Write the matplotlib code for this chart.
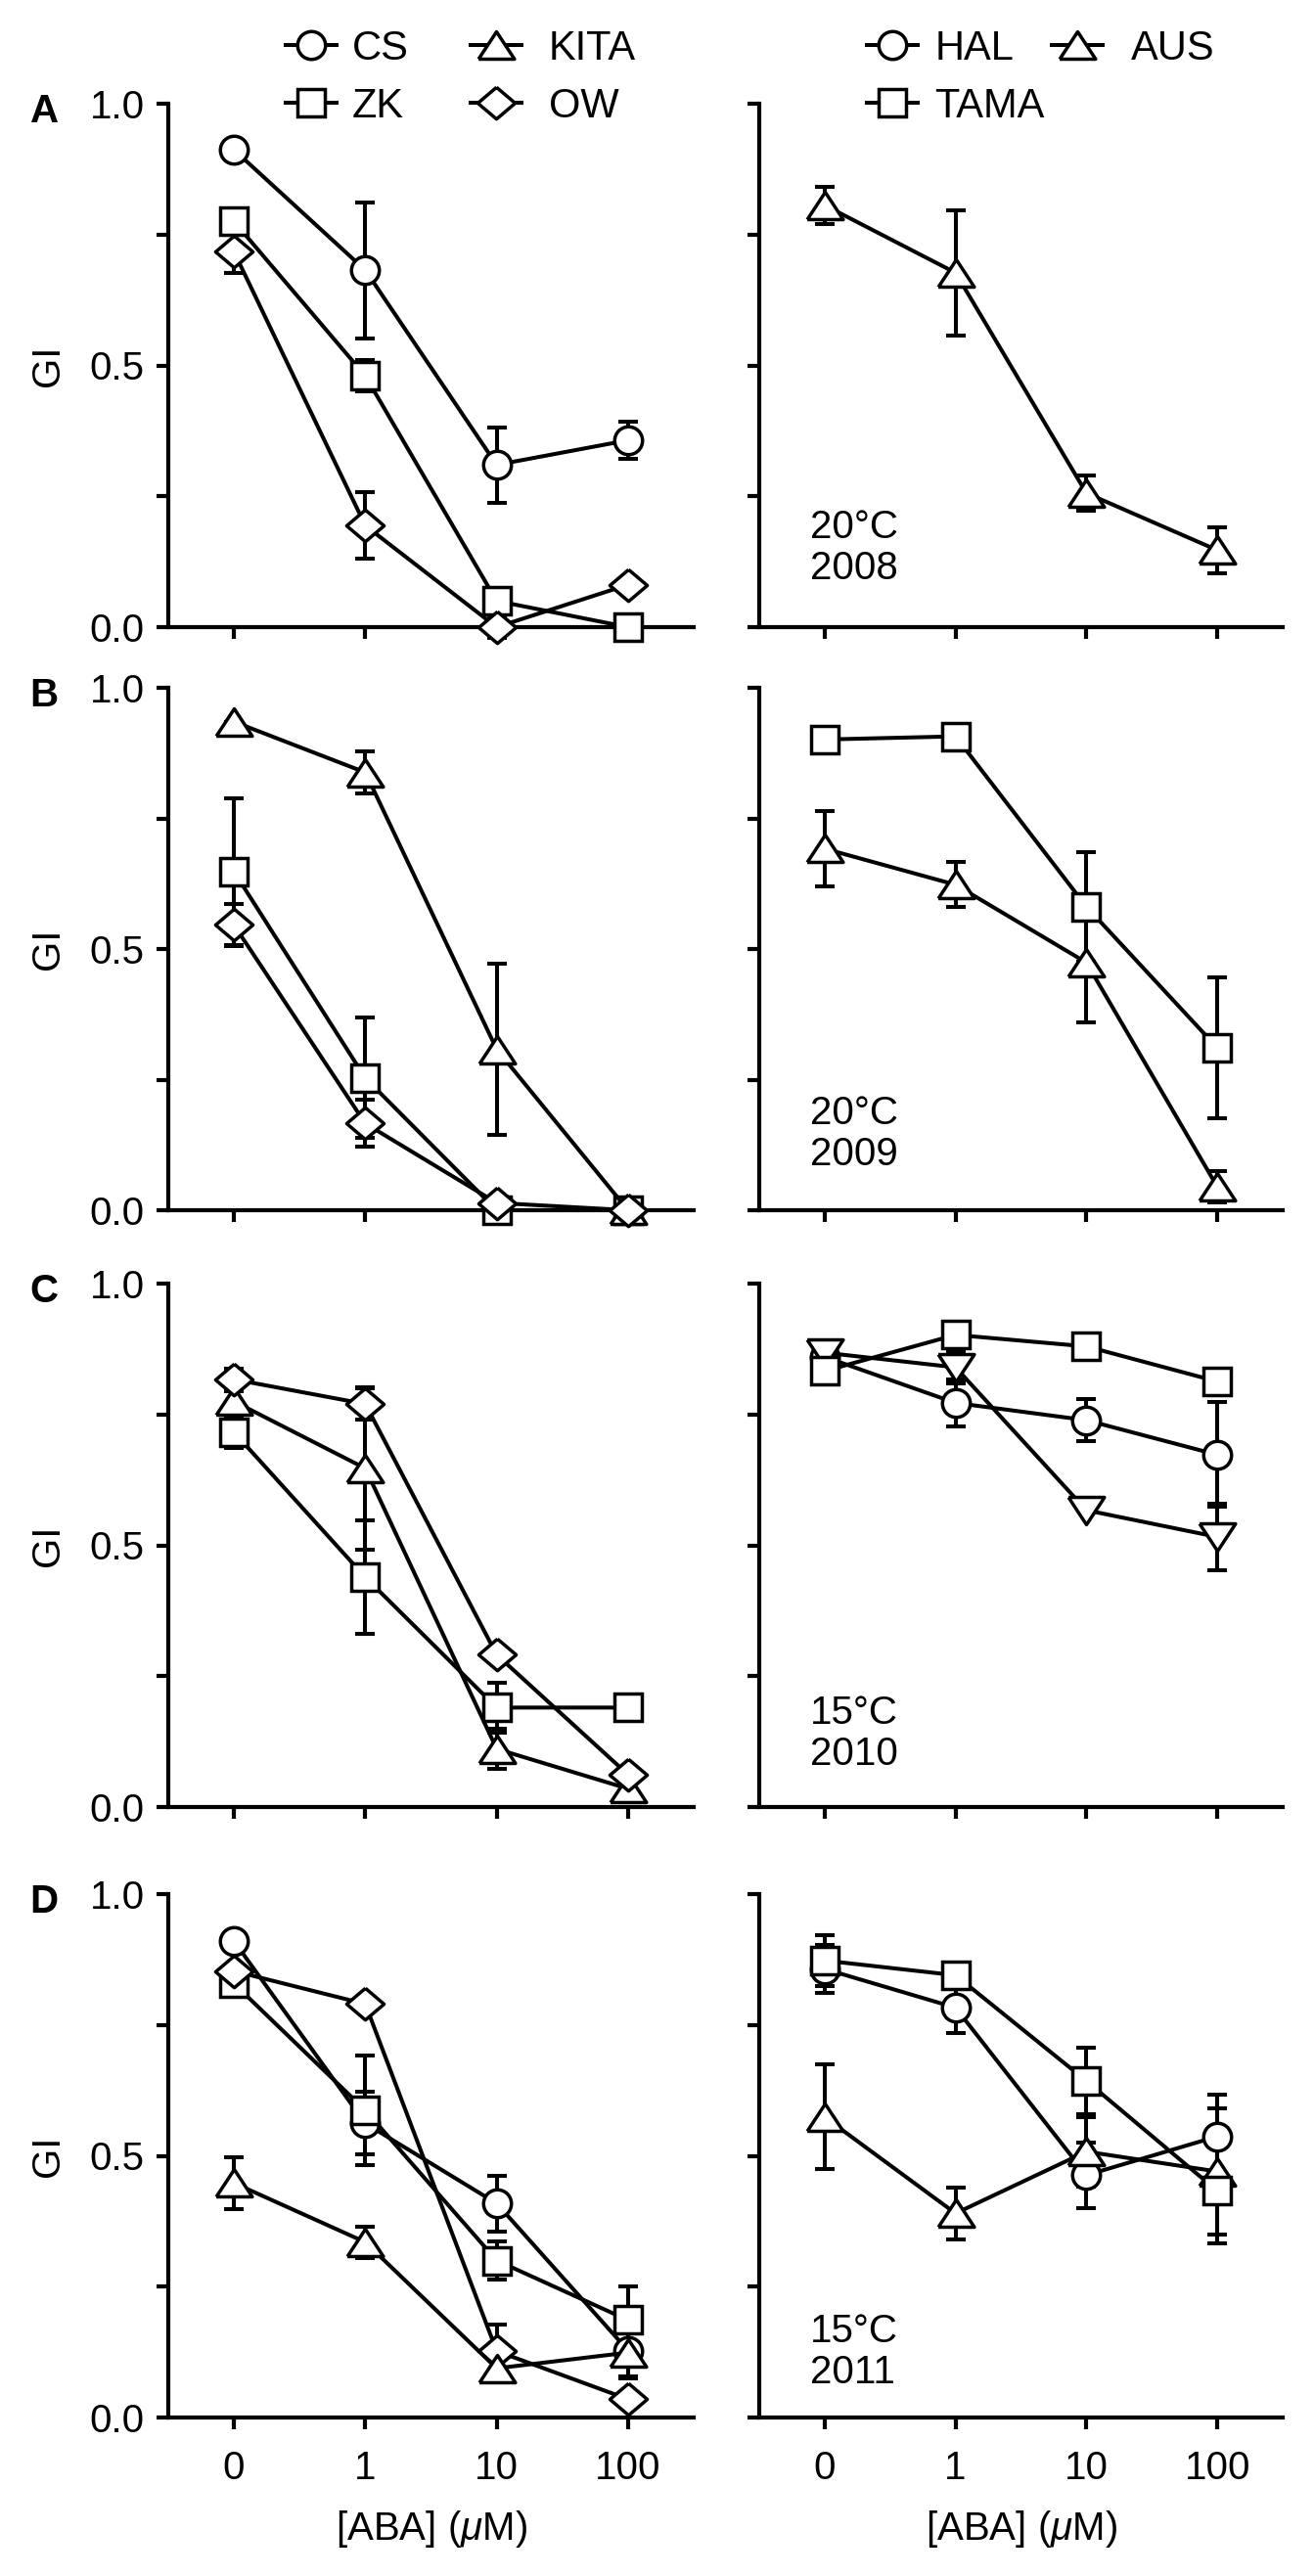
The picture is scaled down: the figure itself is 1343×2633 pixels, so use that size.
import matplotlib
matplotlib.use('Agg')
import matplotlib.pyplot as plt
from matplotlib.lines import Line2D

plt.rcParams['font.family'] = ['Liberation Sans', 'DejaVu Sans']
plt.rcParams['mathtext.fontset'] = 'custom'
plt.rcParams['mathtext.rm'] = 'Liberation Sans'
plt.rcParams['mathtext.it'] = 'Liberation Sans:italic'

# ---------------- data ----------------
conc_labels = ['0', '1', '10', '100']
gi_ticks = [0.0, 0.25, 0.5, 0.75, 1.0]
gi_ticklabels = ['0.0', '', '0.5', '', '1.0']

# Panel A (20 C, 2008)
A_CS = [0.912, 0.682, 0.310, 0.357]; A_CS_err = [0.0, 0.130, 0.072, 0.036]
A_ZK = [0.775, 0.480, 0.050, 0.000]; A_ZK_err = [0.0, 0.030, 0.0, 0.0]
A_OW = [0.717, 0.194, 0.000, 0.081]; A_OW_err = [0.040, 0.064, 0.020, 0.0]
A_AUS = [0.806, 0.677, 0.256, 0.147]; A_AUS_err = [0.035, 0.120, 0.034, 0.044]

# Panel B (20 C, 2009)
B_ZK = [0.648, 0.253, 0.000, 0.000]; B_ZK_err = [0.140, 0.115, 0.0, 0.0]
B_KITA = [0.935, 0.838, 0.308, 0.000]; B_KITA_err = [0.0, 0.040, 0.164, 0.0]
B_OW = [0.546, 0.166, 0.014, 0.000]; B_OW_err = [0.040, 0.045, 0.0, 0.0]
B_TAMA = [0.901, 0.907, 0.581, 0.311]; B_TAMA_err = [0.0, 0.0, 0.105, 0.135]
B_AUS = [0.692, 0.623, 0.474, 0.045]; B_AUS_err = [0.072, 0.043, 0.114, 0.030]

# Panel C (15 C, 2010)
C_ZK = [0.716, 0.439, 0.190, 0.190]; C_ZK_err = [0.030, 0.108, 0.048, 0.0]
C_KITA = [0.775, 0.647, 0.111, 0.035]; C_KITA_err = [0.020, 0.155, 0.038, 0.0]
C_OW = [0.817, 0.770, 0.291, 0.062]; C_OW_err = [0.020, 0.030, 0.0, 0.0]
C_HAL = [0.860, 0.772, 0.739, 0.673]; C_HAL_err = [0.0, 0.045, 0.040, 0.100]
C_TAMA = [0.833, 0.902, 0.880, 0.813]; C_TAMA_err = [0.0, 0.0, 0.0, 0.0]
C_AUS = [0.868, 0.840, 0.567, 0.516]; C_AUS_err = [0.0, 0.030, 0.0, 0.063]

# Panel D (15 C, 2011)
D_CS = [0.910, 0.562, 0.409, 0.128]; D_CS_err = [0.0, 0.060, 0.053, 0.050]
D_ZK = [0.829, 0.587, 0.300, 0.186]; D_ZK_err = [0.0, 0.105, 0.036, 0.065]
D_KITA = [0.448, 0.335, 0.094, 0.124]; D_KITA_err = [0.050, 0.030, 0.025, 0.050]
D_OW = [0.853, 0.790, 0.127, 0.035]; D_OW_err = [0.0, 0.0, 0.050, 0.0]
D_HAL = [0.857, 0.783, 0.463, 0.537]; D_HAL_err = [0.045, 0.048, 0.063, 0.080]
D_TAMA = [0.873, 0.845, 0.643, 0.433]; D_TAMA_err = [0.048, 0.0, 0.064, 0.100]
D_AUS = [0.574, 0.390, 0.508, 0.470]; D_AUS_err = [0.100, 0.050, 0.066, 0.120]

panel_letters = ['A', 'B', 'C', 'D']
panel_temps = ['20°C', '20°C', '15°C', '15°C']
panel_years = ['2008', '2009', '2010', '2011']

# ---------------- style ----------------
W, H = 1343, 2633
FS = 29
LW = 2.9
MEW = 2.5
SPW = 3.0
TRI_UP = [(-1, -0.76), (1, -0.76), (0, 0.76), (-1, -0.76)]
TRI_DN = [(-1, 0.76), (1, 0.76), (0, -0.76), (-1, 0.76)]
DIAM = [(0, 0.85), (1, 0), (0, -0.85), (-1, 0), (0, 0.85)]
MK = {
    'o': dict(marker='o', ms=20.5),
    's': dict(marker='s', ms=20),
    '^': dict(marker=TRI_UP, ms=26.5),
    'v': dict(marker=TRI_DN, ms=26.5),
    'D': dict(marker=DIAM, ms=27.5),
}

fig = plt.figure(figsize=(W / 100, H / 100), dpi=100)

rows_px = [(106, 641), (703, 1237), (1312, 1847), (1936, 2471)]
left_px = (172, 709)
right_px = (776, 1311)
text_base = [0.092, 0.087, 0.080, 0.066]


def make_ax(xpx, ypx):
    x0, x1 = xpx
    t, b = ypx
    return fig.add_axes([x0 / W, 1 - b / H, (x1 - x0) / W, (b - t) / H])


def style_ax(ax, ylabels, xlabels):
    ax.set_xlim(-0.5, 3.5)
    ax.set_ylim(0, 1.0)
    for s in ['top', 'right']:
        ax.spines[s].set_visible(False)
    for s in ['left', 'bottom']:
        ax.spines[s].set_linewidth(SPW)
        ax.spines[s].set_capstyle('projecting')
    ax.set_yticks(gi_ticks)
    ax.set_yticklabels(gi_ticklabels if ylabels else [''] * 5)
    ax.set_xticks(range(4))
    ax.set_xticklabels(conc_labels if xlabels else [''] * 4)
    ax.tick_params(axis='y', direction='out', length=8.6, width=SPW, labelsize=FS, pad=9)
    ax.tick_params(axis='x', direction='out', length=8.6, width=SPW, labelsize=FS, pad=15)


def series(ax, vals, errs, mk):
    x = list(range(4))
    eb = ax.errorbar(x, vals, yerr=errs, fmt='none', ecolor='k', elinewidth=LW,
                     capsize=7.5, capthick=LW, zorder=2)
    for art in eb.get_children():
        art.set_clip_on(False)
    ax.plot(x, vals, '-', color='k', lw=LW, mfc='white', mec='k', mew=MEW,
            zorder=3, clip_on=False, **MK[mk])


left_data = [
    [(A_CS, A_CS_err, 'o'), (A_ZK, A_ZK_err, 's'), (A_OW, A_OW_err, 'D')],
    [(B_ZK, B_ZK_err, 's'), (B_KITA, B_KITA_err, '^'), (B_OW, B_OW_err, 'D')],
    [(C_ZK, C_ZK_err, 's'), (C_KITA, C_KITA_err, '^'), (C_OW, C_OW_err, 'D')],
    [(D_CS, D_CS_err, 'o'), (D_ZK, D_ZK_err, 's'), (D_OW, D_OW_err, 'D'), (D_KITA, D_KITA_err, '^')],
]
right_data = [
    [(A_AUS, A_AUS_err, '^')],
    [(B_TAMA, B_TAMA_err, 's'), (B_AUS, B_AUS_err, '^')],
    [(C_HAL, C_HAL_err, 'o'), (C_AUS, C_AUS_err, 'v'), (C_TAMA, C_TAMA_err, 's')],
    [(D_HAL, D_HAL_err, 'o'), (D_AUS, D_AUS_err, '^'), (D_TAMA, D_TAMA_err, 's')],
]

for i in range(4):
    axl = make_ax(left_px, rows_px[i])
    axr = make_ax(right_px, rows_px[i])
    last = (i == 3)
    style_ax(axl, True, last)
    style_ax(axr, False, last)
    for v, e, m in left_data[i]:
        series(axl, v, e, m)
    for v, e, m in right_data[i]:
        series(axr, v, e, m)
    axl.text(-0.229, 0.5, 'GI', transform=axl.transAxes, rotation=90,
             ha='center', va='center', fontsize=FS)
    axl.text(-0.236, 0.985, panel_letters[i], transform=axl.transAxes,
             ha='center', va='center', fontsize=FS, fontweight='bold')
    axr.text(-0.111, text_base[i] + 0.078, panel_temps[i], transform=axr.get_xaxis_transform(),
             ha='left', va='baseline', fontsize=FS)
    axr.text(-0.111, text_base[i], panel_years[i], transform=axr.get_xaxis_transform(),
             ha='left', va='baseline', fontsize=FS)
    if last:
        axl.set_xlabel(r'[ABA] ($\mu$M)', fontsize=FS, labelpad=16)
        axr.set_xlabel(r'[ABA] ($\mu$M)', fontsize=FS, labelpad=16)


def handle(mk):
    return Line2D([0], [0], color='k', lw=LW, mfc='white', mec='k', mew=MEW, **MK[mk])


def add_legend(names, mks, xpx, pad):
    fig.legend([handle(m) for m in mks], names, loc='upper left',
               bbox_to_anchor=(xpx / W, 1 - 30 / H), frameon=False,
               borderaxespad=0, borderpad=0, handlelength=1.25,
               handletextpad=pad, labelspacing=0.45, fontsize=30, numpoints=1)


add_legend(['CS', 'ZK'], ['o', 's'], 292, 0.37)
add_legend(['KITA', 'OW'], ['^', 'D'], 481, 0.67)
add_legend(['HAL', 'TAMA'], ['o', 's'], 886, 0.42)
add_legend(['AUS'], ['^'], 1075, 0.69)

fig.savefig('out.png', dpi=100)
